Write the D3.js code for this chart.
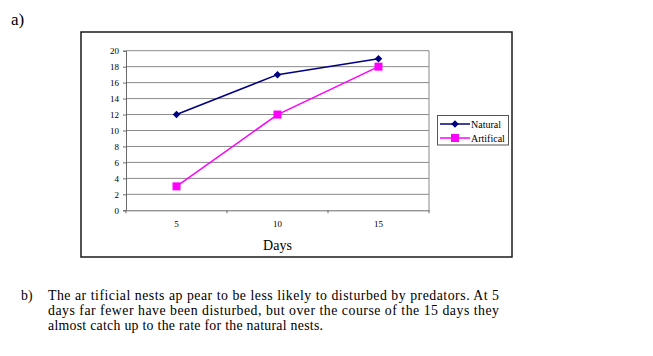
<!DOCTYPE html>
<html>
<head>
<meta charset="utf-8">
<script src="https://cdn.jsdelivr.net/npm/d3@7"></script>
<style>
html,body{margin:0;padding:0;background:#fff;}
svg{display:block;}
text{font-family:"Liberation Serif","Times New Roman",serif;fill:#000;}
</style>
</head>
<body>
<svg id="chart" width="653" height="356"></svg>
<script>
const days = ["5", "10", "15"];
const natural = [12, 17, 19];
const artificial = [3, 12, 18];
const seriesNames = ["Natural", "Artifical"];
const yTicks = [0, 2, 4, 6, 8, 10, 12, 14, 16, 18, 20];
const xTitle = "Days";
const partA = "a)";
const partB = "b)";
const answerLines = [
  "The ar tificial nests ap pear to be less likely to disturbed by predators. At 5",
  "days far fewer have been disturbed, but over the course of the 15 days they",
  "almost catch up to the rate for the natural nests."
];

const svg = d3.select("#chart");

// question label
svg.append("text").attr("x", 11).attr("y", 25).attr("font-size", 17).text(partA);

// outer chart box
svg.append("rect").attr("x", 81).attr("y", 32).attr("width", 431).attr("height", 225)
  .attr("fill", "#fff").attr("stroke", "#1a1a1a").attr("stroke-width", 1.5);

const plot = {left: 126, right: 429, top: 50.7, bottom: 210.3};

const x = d3.scaleBand().domain(days).range([plot.left, plot.right]).padding(0);
const y = d3.scaleLinear().domain([0, 20]).range([plot.bottom, plot.top]);

// gridlines
svg.append("g").selectAll("line").data(yTicks.filter(d => d > 0)).join("line")
  .attr("x1", plot.left).attr("x2", plot.right)
  .attr("y1", d => y(d)).attr("y2", d => y(d))
  .attr("stroke", "#8a8a8a").attr("stroke-width", 1);

// right border of plot area
svg.append("line").attr("x1", plot.right).attr("x2", plot.right)
  .attr("y1", plot.top).attr("y2", plot.bottom)
  .attr("stroke", "#8a8a8a").attr("stroke-width", 1);

// y axis
const yAxis = svg.append("g").attr("transform", `translate(${plot.left},0)`)
  .call(d3.axisLeft(y).tickValues(yTicks).tickSize(3).tickPadding(4));
yAxis.attr("font-family", null);
yAxis.select(".domain").attr("stroke", "#6a6a6a");
yAxis.selectAll(".tick line").attr("stroke", "#6a6a6a");
yAxis.selectAll("text").style("font-size", "9px").style("font-family", "'Liberation Serif', serif");

// x axis
const xAxis = svg.append("g").attr("transform", `translate(0,${plot.bottom})`)
  .call(d3.axisBottom(x).tickSize(0).tickPadding(10));
xAxis.attr("font-family", null);
xAxis.select(".domain").attr("stroke", "#6a6a6a");
xAxis.selectAll("text").style("font-size", "9px").style("font-family", "'Liberation Serif', serif");
// category boundary ticks
const bounds = days.map(d => x(d)).concat([x(days[days.length - 1]) + x.bandwidth()]);
svg.append("g").selectAll("line").data(bounds).join("line")
  .attr("x1", d => d).attr("x2", d => d)
  .attr("y1", plot.bottom).attr("y2", plot.bottom + 3)
  .attr("stroke", "#6a6a6a");

// x title
svg.append("text").attr("x", x(days[1]) + x.bandwidth() / 2).attr("y", 250)
  .attr("text-anchor", "middle").attr("font-size", 14).text(xTitle);

const cx = d => x(d) + x.bandwidth() / 2;
const line = d3.line().x((d, i) => cx(days[i])).y(d => y(d));

const colors = ["#000080", "#FF00FF"];

// Natural series
svg.append("path").datum(natural).attr("d", line)
  .attr("fill", "none").attr("stroke", colors[0]).attr("stroke-width", 1.5);
// Artificial series
svg.append("path").datum(artificial).attr("d", line)
  .attr("fill", "none").attr("stroke", colors[1]).attr("stroke-width", 1.5);

const diamond = d3.symbol().type(d3.symbolDiamond2).size(36);
svg.append("g").selectAll("path").data(natural).join("path")
  .attr("d", diamond)
  .attr("transform", (d, i) => `translate(${cx(days[i])},${y(d)})`)
  .attr("fill", colors[0]);

svg.append("g").selectAll("rect").data(artificial).join("rect")
  .attr("x", (d, i) => cx(days[i]) - 4).attr("y", d => y(d) - 4)
  .attr("width", 8).attr("height", 8).attr("fill", colors[1]);

// legend
const lg = svg.append("g");
lg.append("rect").attr("x", 437.5).attr("y", 115.5).attr("width", 71).attr("height", 29.5)
  .attr("fill", "#fff").attr("stroke", "#555").attr("stroke-width", 1);
const ly = [124, 138];
seriesNames.forEach((name, i) => {
  lg.append("line").attr("x1", 440).attr("x2", 470).attr("y1", ly[i]).attr("y2", ly[i])
    .attr("stroke", colors[i]).attr("stroke-width", 1.5);
  if (i === 0) {
    lg.append("path").attr("d", diamond).attr("transform", `translate(455,${ly[i]})`).attr("fill", colors[i]);
  } else {
    lg.append("rect").attr("x", 451).attr("y", ly[i] - 4).attr("width", 8).attr("height", 8).attr("fill", colors[i]);
  }
  lg.append("text").attr("x", 471).attr("y", ly[i] + 3.5).attr("font-size", 10).text(name);
});

// part b
svg.append("text").attr("x", 21).attr("y", 299.5).attr("font-size", 13.8).text(partB);
const widths = [451, 451, 275];
const baselines = [299.5, 314.8, 330.1];
answerLines.forEach((t, i) => {
  svg.append("text").attr("x", 48).attr("y", baselines[i]).attr("font-size", 13.8)
    .attr("textLength", widths[i]).attr("lengthAdjust", "spacing").text(t);
});
</script>
</body>
</html>
